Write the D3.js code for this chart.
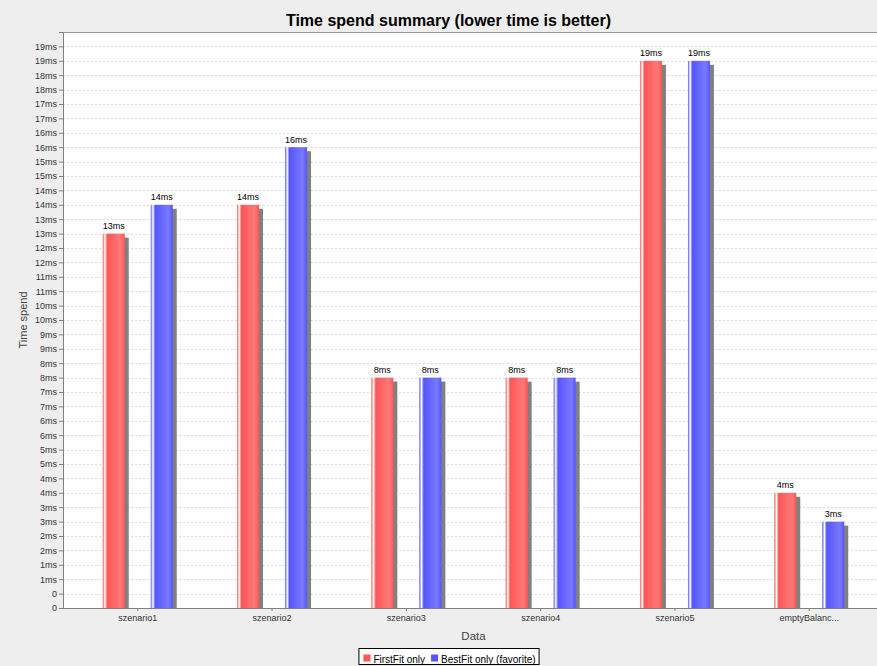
<!DOCTYPE html>
<html>
<head>
<meta charset="utf-8">
<script src="https://cdn.jsdelivr.net/npm/d3@7/dist/d3.min.js"></script>
<style>
  html, body { margin: 0; padding: 0; background: #eeeeee; }
  svg { display: block; font-family: "Liberation Sans", Arial, sans-serif; }
</style>
</head>
<body>
<svg id="chart" width="877" height="666"></svg>
<script>
// Benchmark results per scenario (milliseconds)
const categories = ["szenario1", "szenario2", "szenario3", "szenario4", "szenario5", "emptyBalanc..."];
const seriesNames = ["FirstFit only", "BestFit only (favorite)"];
const firstFitValues = [13, 14, 8, 8, 19, 4];
const bestFitValues = [14, 16, 8, 8, 19, 3];
const seriesColors = ["#ff5555", "#5555ff"];
const seriesBrighter = ["#ff7979", "#7979ff"];
const yTickValues = d3.range(0, 20, 0.5);

const title = "Time spend summary (lower time is better)";
const yAxisTitle = "Time spend";
const xAxisTitle = "Data";

const svg = d3.select("#chart");
const W = 877, H = 666;
const plot = { left: 63, top: 32, right: 884, bottom: 608 };

svg.append("rect").attr("width", W).attr("height", H).attr("fill", "#eeeeee");

// Plot background
svg.append("rect")
  .attr("x", plot.left).attr("y", plot.top)
  .attr("width", plot.right - plot.left).attr("height", plot.bottom - plot.top)
  .attr("fill", "#ffffff").attr("stroke", "#999999").attr("stroke-width", 1)
  .attr("shape-rendering", "crispEdges");

const y = d3.scaleLinear().domain([0, 20]).range([plot.bottom, plot.top]);
const x = d3.scaleBand().domain(categories).range([plot.left, plot.right])
  .paddingInner(0).paddingOuter(0.0566);
const xs = d3.scaleBand().domain(seriesNames).range([-35, 35]).paddingInner(26 / 48).paddingOuter(0);

// Dashed horizontal gridlines
svg.append("g").selectAll("line").data(yTickValues.filter(v => v > 0)).join("line")
  .attr("x1", plot.left).attr("x2", plot.right)
  .attr("y1", d => Math.round(y(d)) + 0.5).attr("y2", d => Math.round(y(d)) + 0.5)
  .attr("stroke", "#dcdcdc").attr("stroke-width", 1).attr("stroke-dasharray", "2,2");

// Gradient fills for bars
const defs = svg.append("defs");
seriesNames.forEach((s, i) => {
  const g = defs.append("linearGradient").attr("id", "grad" + i)
    .attr("x1", "0").attr("x2", "1").attr("y1", "0").attr("y2", "0");
  [[0, seriesColors[i]], [0.1, "#ffffff"], [0.2, seriesColors[i]], [0.8, seriesBrighter[i]], [1, seriesColors[i]]]
    .forEach(([o, c]) => g.append("stop").attr("offset", o).attr("stop-color", c));
});

const rows = [];
categories.forEach((c, ci) => {
  rows.push({ cat: c, series: seriesNames[0], si: 0, value: firstFitValues[ci] });
  rows.push({ cat: c, series: seriesNames[1], si: 1, value: bestFitValues[ci] });
});

const barX = d => x(d.cat) + x.bandwidth() / 2 + xs(d.series);
const bw = xs.bandwidth();
const barsG = svg.append("g");

// Shadows (pegged to the base)
barsG.selectAll("rect.shadow").data(rows).join("rect").attr("class", "shadow")
  .attr("x", d => barX(d) + 4).attr("y", d => y(d.value) + 4)
  .attr("width", bw).attr("height", d => Math.max(0, y(0) - y(d.value) - 4))
  .attr("fill", "#808080");

barsG.selectAll("rect.bar").data(rows).join("rect").attr("class", "bar")
  .attr("x", d => barX(d)).attr("y", d => y(d.value))
  .attr("width", bw).attr("height", d => y(0) - y(d.value))
  .attr("fill", d => `url(#grad${d.si})`);

barsG.selectAll("text.lbl").data(rows).join("text").attr("class", "lbl")
  .attr("x", d => barX(d) + bw / 2).attr("y", d => y(d.value) - 4.5)
  .attr("text-anchor", "middle").attr("font-size", 9).attr("fill", "#000")
  .text(d => d.value + "ms");

// Y axis
const yAxis = d3.axisLeft(y).tickValues(yTickValues).tickSize(4).tickPadding(2)
  .tickFormat(v => Math.floor(v) === 0 ? "0" : Math.floor(v) + "ms");
const gy = svg.append("g").attr("transform", `translate(${plot.left},0)`).call(yAxis);
gy.select(".domain").attr("stroke", "#808080");
gy.selectAll(".tick line").attr("stroke", "#808080");
gy.selectAll(".tick text").attr("font-size", 9).attr("fill", "#333").attr("font-family", "Liberation Sans, Arial, sans-serif");

// X axis
const xAxis = d3.axisBottom(x).tickSize(3).tickPadding(4).tickSizeOuter(0);
const gx = svg.append("g").attr("transform", `translate(0,${plot.bottom})`).call(xAxis);
gx.select(".domain").attr("stroke", "#808080");
gx.selectAll(".tick line").attr("stroke", "#808080");
gx.selectAll(".tick text").attr("font-size", 9).attr("fill", "#333").attr("font-family", "Liberation Sans, Arial, sans-serif");

// Titles
svg.append("text").attr("x", 448.5).attr("y", 25.5).attr("text-anchor", "middle")
  .attr("font-size", 16).attr("font-weight", "bold").attr("fill", "#000").text(title);

svg.append("text").attr("transform", `translate(27,${(plot.top + plot.bottom) / 2}) rotate(-90)`)
  .attr("text-anchor", "middle").attr("font-size", 11).attr("fill", "#444").text(yAxisTitle);

svg.append("text").attr("x", (plot.left + plot.right) / 2).attr("y", 640).attr("text-anchor", "middle")
  .attr("font-size", 11.5).attr("fill", "#444").text(xAxisTitle);

// Legend
const legend = svg.append("g");
const legendBox = legend.append("rect").attr("y", 648.5).attr("height", 16)
  .attr("fill", "#ffffff").attr("stroke", "#000").attr("stroke-width", 1);
let lx = 0;
const items = legend.append("g");
seriesNames.forEach((s, i) => {
  const it = items.append("g").attr("transform", `translate(${lx},0)`);
  it.append("rect").attr("x", 0).attr("y", 654.5).attr("width", 7).attr("height", 7).attr("fill", seriesColors[i]);
  const t = it.append("text").attr("x", 10).attr("y", 662.5).attr("font-size", 10).attr("fill", "#000").text(s);
  lx += 10 + t.node().getComputedTextLength() + 6;
});
const totalW = lx - 6;
const lStart = 449.5 - totalW / 2;
items.attr("transform", `translate(${lStart},0)`);
legendBox.attr("x", lStart - 4.5).attr("width", totalW + 8);
</script>
</body>
</html>
